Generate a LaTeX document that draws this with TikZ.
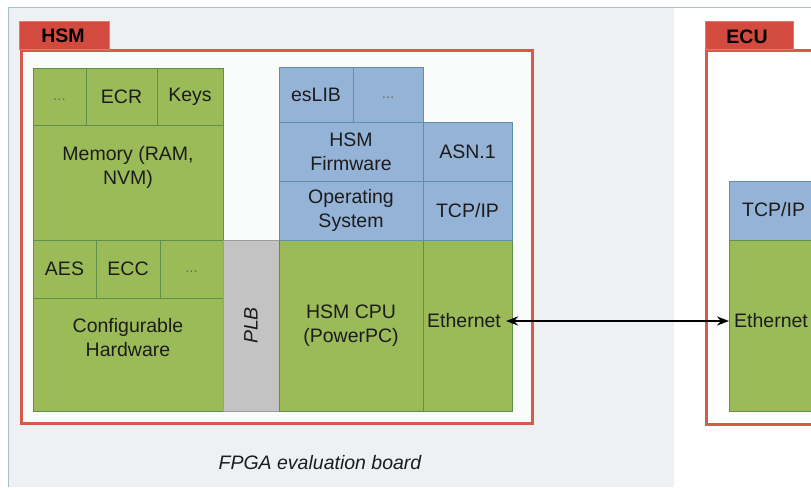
\documentclass[tikz,border=0pt]{standalone}
\usepackage{fontspec}
\setmainfont{Liberation Sans}
\usetikzlibrary{arrows.meta}
\definecolor{boardbg}{HTML}{EEF1F3}
\definecolor{boardln}{HTML}{A7C0C8}
\definecolor{hwgreen}{HTML}{9BBB59}
\definecolor{greenln}{HTML}{5F8F48}
\definecolor{swblue}{HTML}{95B3D7}
\definecolor{blueln}{HTML}{5A93A8}
\definecolor{plbgray}{HTML}{C3C3C3}
\definecolor{framered}{HTML}{D55B48}
\definecolor{tabred}{HTML}{D34B3E}
\definecolor{tabln}{HTML}{E27B6B}
\definecolor{txt}{HTML}{1C1C1C}
\newcommand\cellbox[6]{\node[#6, minimum width={#4pt-#2pt}, minimum height={#5pt-#3pt}] (#1) at ({(#2+#4)/2},{(#3+#5)/2}) {};}
\tikzset{
  cellbase/.style={rectangle, inner sep=0pt, outer sep=0pt, line width=0.7pt},
  hw/.style={cellbase, fill=hwgreen, draw=greenln},
  sw/.style={cellbase, fill=swblue, draw=blueln},
  bus/.style={cellbase, fill=plbgray, draw=plbgray!80!black},
  frame/.style={rectangle, inner sep=0pt, outer sep=0pt, draw=framered, line width=3pt},
  tabbox/.style={rectangle, inner sep=0pt, outer sep=0pt, fill=tabred, draw=tabln, line width=0.8pt},
  lbl/.style={font=\fontsize{19.5}{24}\selectfont, text=txt, align=center, inner sep=0pt},
  dots/.style={lbl, font=\fontsize{15}{24}\selectfont, text=txt!65},
  tablbl/.style={lbl, font=\fontsize{19.5}{24}\selectfont\bfseries, text=black},
  link/.style={{Stealth[length=12pt,width=9pt]}-{Stealth[length=12pt,width=9pt]}, line width=2.2pt, black}
}
\begin{document}
\begin{tikzpicture}[x=1pt,y=-1pt]
\useasboundingbox (0,0) rectangle (811,491);
\clip (0,0) rectangle (811,491);
\fill[white] (0,0) rectangle (811,491);
% board
\fill[boardbg] (8,7) rectangle (674,487);
\draw[boardln, line width=1pt] (8,487) -- (8,7) -- (811,7);
% frames
\cellbox{hsmframe}{21}{50}{532}{423}{frame, fill=white!70!boardbg}
\cellbox{ecuframe}{706}{50}{840}{424}{frame, fill=white}
\cellbox{hsmtab}{19}{21}{109}{49}{tabbox}
\cellbox{ecutab}{705}{21}{793}{49}{tabbox}
\node[tablbl] (hsmtabt) at (63,36) {HSM};
\node[tablbl] (ecutabt) at (747,37) {ECU};
% HSM hardware
\cellbox{mdots}{33}{68}{86}{125}{hw}
\cellbox{ecr}{86}{68}{157}{125}{hw}
\cellbox{keys}{157}{68}{223}{125}{hw}
\cellbox{mem}{33}{125}{223}{240}{hw}
\cellbox{aes}{33}{240}{96}{298}{hw}
\cellbox{ecc}{96}{240}{160}{298}{hw}
\cellbox{hdots}{160}{240}{223}{298}{hw}
\cellbox{cfg}{33}{298}{223}{411}{hw}
\cellbox{plb}{223}{240}{279}{411}{bus}
\cellbox{cpu}{279}{240}{423}{411}{hw}
\cellbox{eth}{423}{240}{512}{411}{hw}
% HSM software
\cellbox{eslib}{279}{67}{353}{122}{sw}
\cellbox{sdots}{353}{67}{423}{122}{sw}
\cellbox{fw}{279}{122}{423}{181}{sw}
\cellbox{asn}{423}{122}{512}{181}{sw}
\cellbox{os}{279}{181}{423}{240}{sw}
\cellbox{tcp}{423}{181}{512}{240}{sw}
% ECU
\cellbox{etcp}{729}{181}{840}{240}{sw}
\cellbox{eeth}{729}{240}{840}{411}{hw}
% labels
\node[dots] (mdotst) at (mdots.center) {\vphantom{Ay}...};
\node[lbl] (ecrt) at (ecr.center) {ECR};
\node[lbl] (keyst) at (keys.center) {Keys};
\node[lbl] (memt) at (128,167) {Memory (RAM,\\NVM)};
\node[lbl] (aest) at (aes.center) {AES};
\node[lbl] (ecct) at (ecc.center) {ECC};
\node[dots] (hdotst) at (hdots.center) {\vphantom{Ay}...};
\node[lbl] (cfgt) at (128,338) {Configurable\\Hardware};
\node[lbl, rotate=90, font=\fontsize{19.5}{24}\selectfont\itshape] (plbt) at (plb.center) {PLB};
\node[lbl] (cput) at (cpu.center) {HSM CPU\\(PowerPC)};
\node[lbl, inner sep=5pt] (etht) at (464,321) {Ethernet};
\node[lbl] (eslibt) at (eslib.center) {esLIB};
\node[dots] (sdotst) at (sdots.center) {\vphantom{Ay}...};
\node[lbl] (fwt) at (fw.center) {HSM\\Firmware};
\node[lbl] (asnt) at (asn.center) {ASN.1};
\node[lbl] (ost) at (os.center) {Operating\\System};
\node[lbl] (tcpt) at (tcp.center) {TCP/IP};
\node[lbl, anchor=west, inner sep=5pt] (etcpt) at (737,210) {TCP/IP};
\node[lbl, anchor=west, inner sep=5pt] (eetht) at (729,321) {Ethernet};
\node[lbl, font=\fontsize{19.5}{24}\selectfont\itshape] (boardt) at (320,463) {FPGA evaluation board};
% link
\draw[link] (etht.east) -- (eetht.west);
\end{tikzpicture}
\end{document}
